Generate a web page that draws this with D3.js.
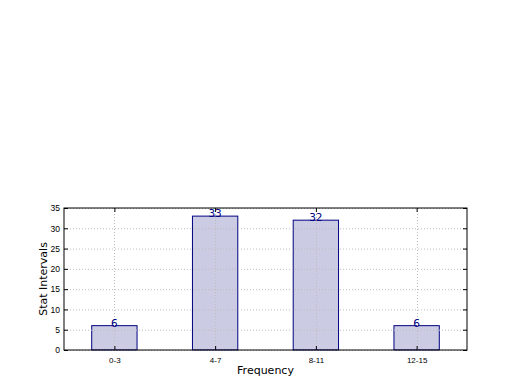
<!DOCTYPE html>
<html>
<head>
<meta charset="utf-8">
<script src="https://cdn.jsdelivr.net/npm/d3@7"></script>
<style>
  body { margin: 0; background: #fff; }
  svg { display: block; font-family: "DejaVu Sans", sans-serif; }
  .grid line { stroke: #bdbdbd; stroke-dasharray: 1,2; }
</style>
</head>
<body>
<svg id="chart" width="520" height="390"></svg>
<script>
const categories = ['0-3', '4-7', '8-11', '12-15'];
const values = [6, 33, 32, 6];
const yTicks = [0, 5, 10, 15, 20, 25, 30, 35];

(function(){
  const MARGIN = { top: 208, right: 53, bottom: 40, left: 64 };
  const width = 520 - MARGIN.left - MARGIN.right;
  const height = 390 - MARGIN.top - MARGIN.bottom;
  const barW = 0.45;

  const svg = d3.select('#chart');
  const g = svg.append('g')
    .attr('transform', 'translate(' + MARGIN.left + ',' + MARGIN.top + ')');

  const x = d3.scaleLinear().domain([-0.5, categories.length - 0.5]).range([0, width]);
  const y = d3.scaleLinear().domain([0, 35]).range([height, 0]);

  // bars
  g.selectAll('rect.bar').data(values).enter().append('rect')
    .attr('class', 'bar')
    .attr('x', (d, i) => x(i - barW / 2))
    .attr('y', d => y(d))
    .attr('width', x(barW) - x(0))
    .attr('height', d => height - y(d))
    .attr('fill', '#cbcbe3')
    .attr('stroke', '#000080')
    .attr('stroke-width', 1);

  // grid drawn over the bars
  const grid = g.append('g').attr('class', 'grid');
  grid.selectAll('.gx').data(categories).enter().append('line')
    .attr('x1', (d, i) => Math.round(x(i)) + 0.5).attr('x2', (d, i) => Math.round(x(i)) + 0.5)
    .attr('y1', 0).attr('y2', height);
  grid.selectAll('.gy').data(yTicks).enter().append('line')
    .attr('x1', 0).attr('x2', width)
    .attr('y1', d => y(d) + 0.5).attr('y2', d => y(d) + 0.5);

  // value labels
  g.selectAll('text.val').data(values).enter().append('text')
    .attr('class', 'val')
    .attr('x', (d, i) => x(i))
    .attr('y', d => y(d) + 1)
    .attr('text-anchor', 'middle')
    .attr('font-size', 10.5)
    .attr('fill', '#000080')
    .text(d => d);

  // axes
  const yAxis = g.append('g')
    .call(d3.axisLeft(y).tickValues(yTicks).tickSize(-4).tickPadding(4));
  yAxis.selectAll('text').attr('font-size', 8.5).attr('fill', '#000');
  yAxis.select('.domain').remove();
  yAxis.selectAll('line').attr('stroke', '#000');

  g.append('g').attr('transform', 'translate(' + width + ',0)')
    .call(d3.axisRight(y).tickValues(yTicks).tickSize(-4).tickFormat(''))
    .select('.domain').remove();

  const xAxis = g.append('g')
    .attr('transform', 'translate(0,' + height + ')')
    .call(d3.axisBottom(x).tickValues(d3.range(categories.length)).tickFormat(i => categories[i]).tickSize(-4).tickPadding(7));
  xAxis.selectAll('text').attr('font-size', 8).attr('fill', '#000');
  xAxis.select('.domain').remove();

  g.append('g')
    .call(d3.axisTop(x).tickValues(d3.range(categories.length)).tickSize(-4).tickFormat(''))
    .select('.domain').remove();

  // frame
  g.append('rect')
    .attr('x', 0).attr('y', 0).attr('width', width).attr('height', height)
    .attr('fill', 'none').attr('stroke', '#000').attr('stroke-width', 1);

  // axis labels
  svg.append('text')
    .attr('x', MARGIN.left + width / 2).attr('y', 374)
    .attr('text-anchor', 'middle').attr('font-size', 11)
    .text('Frequency');
  svg.append('text')
    .attr('transform', 'translate(47,' + (MARGIN.top + height / 2) + ') rotate(-90)')
    .attr('text-anchor', 'middle').attr('font-size', 11)
    .text('Stat Intervals');
})();
</script>
</body>
</html>
